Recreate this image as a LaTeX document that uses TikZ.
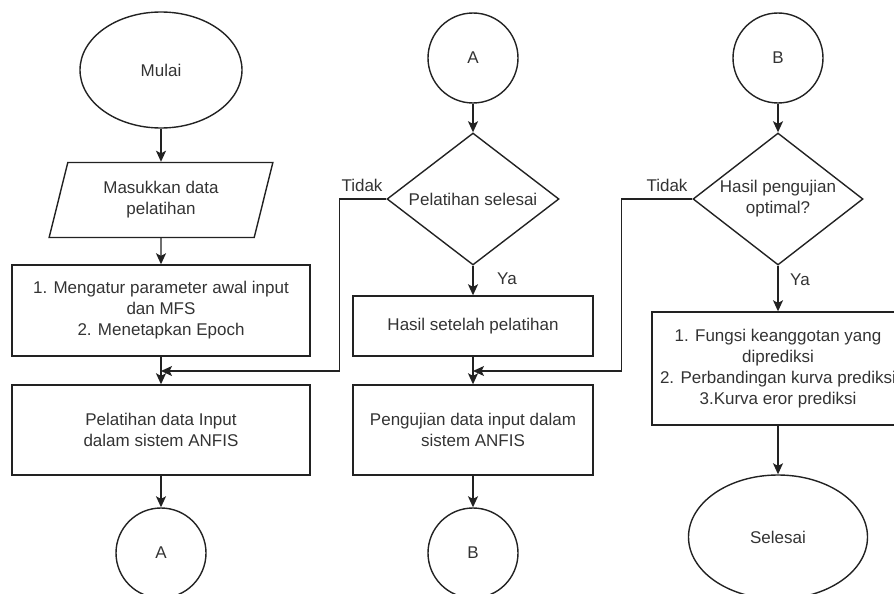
\documentclass[tikz,border=0pt]{standalone}
\usepackage{fontspec}
\setmainfont{Liberation Sans}
\usetikzlibrary{shapes.geometric,arrows.meta}
\definecolor{txt}{HTML}{333333}
\definecolor{ln}{HTML}{222222}
\tikzset{
  every node/.style={font=\fontsize{17}{21}\selectfont, text=txt, align=center},
  shp/.style={draw=ln, line width=1.4pt, inner sep=0pt},
  box/.style={shp, rectangle},
  term/.style={shp, ellipse},
  conn/.style={shp, circle, minimum size=90pt},
  dec/.style={shp, diamond, minimum width=172pt, minimum height=132pt},
  io/.style={shp, trapezium, trapezium left angle=72.6, trapezium right angle=107.4, trapezium stretches=true, minimum width=224pt, minimum height=75pt},
  arr/.style={draw=ln, line width=1.4pt, -{Stealth[length=11pt,width=10pt,inset=2.5pt]}},
  lbl/.style={inner sep=0pt}
}
\begin{document}
\begin{tikzpicture}[x=1pt,y=-1pt]
\clip (0,0) rectangle (894,594);
\useasboundingbox (0,0) rectangle (894,594);
% left column
\node[term, minimum width=162pt, minimum height=116pt] (mulai) at (161,70) {Mulai};
\node[io] (masuk) at (161,200) {Masukkan data\\pelatihan};
\node[box, minimum width=298pt, minimum height=91pt] (atur) at (161,310.5) {1. Mengatur parameter awal input\\dan MFS\\2. Menetapkan Epoch};
\node[box, minimum width=298pt, minimum height=90pt] (latih) at (161,430) {Pelatihan data Input\\dalam sistem ANFIS};
\node[conn] (ca1) at (161,553) {A};
% middle column
\node[conn] (ca2) at (473,58) {A};
\node[dec] (da) at (473,199) {};
\node[lbl] (dat) at (da.center) {Pelatihan selesai};
\node[box, minimum width=240pt, minimum height=60pt] (hasil) at (473,326) {Hasil setelah pelatihan};
\node[box, minimum width=240pt, minimum height=90pt] (uji) at (473,430) {Pengujian data input dalam\\sistem ANFIS};
\node[conn] (cb1) at (473,553) {B};
% right column
\node[conn] (cb2) at (778,58) {B};
\node[dec, minimum width=170pt] (db) at (778,199) {};
\node[lbl] (dbt) at (db.center) {Hasil pengujian\\optimal?};
\node[box, minimum width=252pt, minimum height=113pt] (out) at (778,368.5) {1. Fungsi keanggotan yang\\diprediksi\\2. Perbandingan kurva prediksi\\3.Kurva eror prediksi};
\node[term, minimum width=179pt, minimum height=124pt] (selesai) at (778,537) {Selesai};
% labels
\node[lbl] (t1) at (362,185) {Tidak};
\node[lbl] (t2) at (667,185) {Tidak};
\node[lbl] (y1) at (507,279) {Ya};
\node[lbl] (y2) at (800,280) {Ya};
% merge points
\coordinate (m1) at (161,371);
\coordinate (m2) at (473,371);
% connectors
\draw[arr] (mulai) -- (masuk);
\draw[arr] (masuk) -- (atur);
\draw[arr] (atur) -- (latih);
\draw[arr] (latih) -- (ca1);
\draw[arr] (ca2) -- (da);
\draw[arr] (da) -- (hasil);
\draw[arr] (hasil) -- (uji);
\draw[arr] (uji) -- (cb1);
\draw[arr] (cb2) -- (db);
\draw[arr] (db) -- (out);
\draw[arr] (out) -- (selesai);
\draw[arr] (da.west) -- ++(-47,0) |- (m1);
\draw[arr] (db.west) -- ++(-71,0) |- (m2);
\end{tikzpicture}
\end{document}
